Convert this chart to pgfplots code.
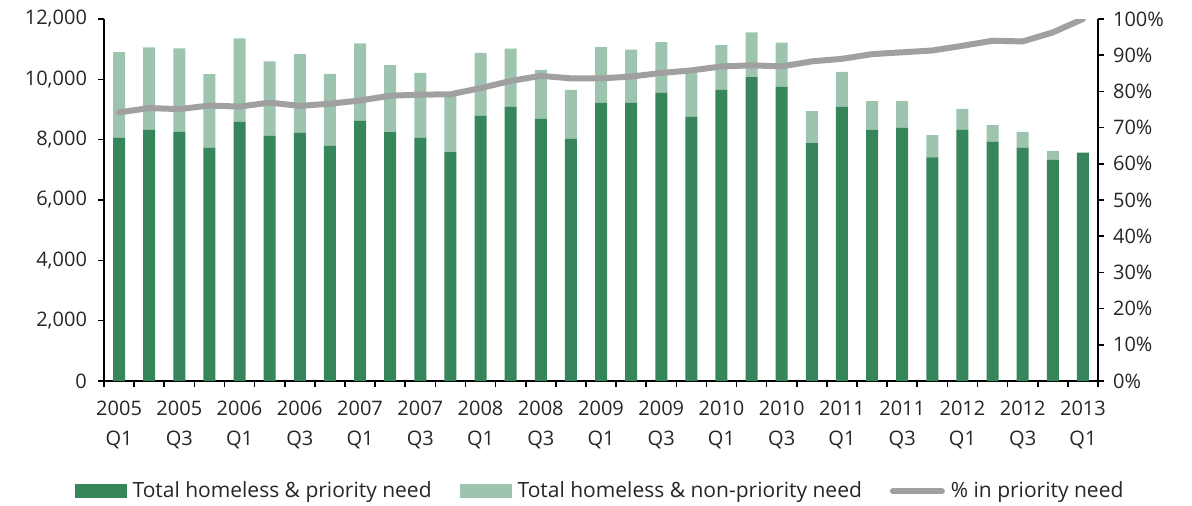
\documentclass[border=0pt]{standalone}
\usepackage{pgfplots}
\pgfplotsset{compat=1.18}
\usepackage{pgfplotstable}
\usepackage{fontspec}
\setmainfont{Open Sans}
\definecolor{darkg}{HTML}{37855B}
\definecolor{lightg}{HTML}{9CC4AE}
\definecolor{lgray}{HTML}{A0A0A0}

\pgfplotstableread{
idx prio nonprio pct
0 8069 2835 74.2
1 8324 2733 75.4
2 8268 2756 75.1
3 7737 2436 76.1
4 8590 2766 75.8
5 8135 2457 76.9
6 8235 2603 76.0
7 7793 2391 76.6
8 8623 2567 77.5
9 8247 2225 78.8
10 8069 2148 79.1
11 7584 1992 79.2
12 8799 2082 80.9
13 9098 1916 82.9
14 8699 1618 84.3
15 8035 1617 83.6
16 9231 1839 83.6
17 9231 1750 84.1
18 9563 1673 85.1
19 8766 1451 85.8
20 9662 1474 86.9
21 10074 1481 87.2
22 9762 1451 86.9
23 7882 1063 88.3
24 9098 1152 89.0
25 8334 943 90.3
26 8391 886 90.8
27 7417 731 91.3
28 8334 687 92.6
29 7936 544 94.0
30 7737 521 93.8
31 7328 299 96.3
32 7571 0 100.0
}\data

\begin{document}
\begin{tikzpicture}
\path[use as bounding box] (-52pt,-62pt) rectangle (544pt,190.5pt);
\begin{axis}[
  at={(0,0)}, anchor=south west,
  scale only axis, width=497pt, height=181pt,
  xmin=-0.5, xmax=32.5, ymin=0, ymax=12000,
  axis lines*=left,
  axis line style={black, line width=0.8pt},
  tick style={black, line width=0.8pt},
  tick align=outside,
  xtick={0,2,...,32},
  major x tick style={draw=none},
  xticklabels={{2005\\Q1},{2005\\Q3},{2006\\Q1},{2006\\Q3},{2007\\Q1},{2007\\Q3},{2008\\Q1},{2008\\Q3},{2009\\Q1},{2009\\Q3},{2010\\Q1},{2010\\Q3},{2011\\Q1},{2011\\Q3},{2012\\Q1},{2012\\Q3},{2013\\Q1}},
  xticklabel style={align=center, font=\fontsize{10}{15}\selectfont, text=black!85, yshift=-3.5pt},
  minor xtick={-0.5,0.5,...,32.5},
  minor tick length=3pt,
  major tick length=3pt,
  ytick={0,2000,...,12000},
  yticklabel style={font=\fontsize{10}{12}\selectfont, text=black!85, xshift=-2pt},
  /pgf/number format/assume math mode=true,
  /pgf/number format/1000 sep={,},
  scaled y ticks=false,
  ybar stacked, bar width=6pt,
  legend columns=3,
  legend style={at={(0.5,-0.305)}, anchor=center, draw=none, fill=none,
    font=\fontsize{10.5}{12}\selectfont, text=black!85,
    /tikz/every even column/.append style={column sep=12pt},
    /tikz/every odd column/.append style={column sep=1pt}},
  legend cell align=left,
]
\addplot[fill=darkg, draw=none,
  legend image code/.code={\fill[darkg] (-0.1pt,-3.5pt) rectangle (25.9pt,3.5pt);}]
  table[x=idx, y=prio] {\data};
\addlegendentry{Total homeless \& priority need}
\addplot[fill=lightg, draw=none,
  legend image code/.code={\fill[lightg] (-0.1pt,-3.5pt) rectangle (25.9pt,3.5pt);}]
  table[x=idx, y=nonprio] {\data};
\addlegendentry{Total homeless \& non-priority need}
\addlegendimage{legend image code/.code={\draw[lgray, line width=3pt, line cap=round] (1.5pt,0pt) -- (26pt,0pt);}}
\addlegendentry{\% in priority need}
\end{axis}
\begin{axis}[
  at={(0,0)}, anchor=south west,
  scale only axis, width=497pt, height=181pt,
  xmin=-0.5, xmax=32.5, ymin=0, ymax=100,
  axis x line=none,
  axis y line*=right,
  axis line style={black, line width=0.8pt},
  tick style={black, line width=0.8pt},
  tick align=outside, major tick length=3pt,
  ytick={0,10,...,100},
  yticklabel={\pgfmathprintnumber{\tick}\%},
  yticklabel style={font=\fontsize{10}{12}\selectfont, text=black!85, xshift=1pt},
  /pgf/number format/assume math mode=true,
]
\addplot[lgray, line width=3pt, line join=round, line cap=round, mark=none]
  table[x=idx, y=pct] {\data};
\end{axis}
\end{tikzpicture}
\end{document}
